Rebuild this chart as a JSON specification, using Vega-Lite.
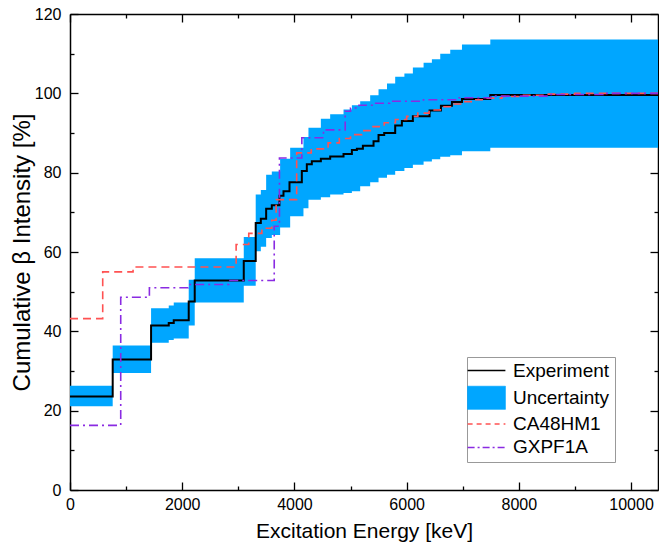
{
  "$schema": "https://vega.github.io/schema/vega-lite/v6.json",
  "width": 588,
  "height": 476,
  "autosize": {"type": "none"},
  "padding": {"left": 70, "top": 14, "right": 1, "bottom": 60},
  "background": "#ffffff",
  "config": {
    "view": {"stroke": null},
    "axis": {
      "grid": false,
      "domainColor": "#000000",
      "domainWidth": 1.5,
      "tickColor": "#000000",
      "tickWidth": 1.3,
      "labelColor": "#000000",
      "titleColor": "#000000",
      "labelFont": "Liberation Sans",
      "titleFont": "Liberation Sans",
      "labelFontSize": 16,
      "titleFontSize": 21,
      "titleFontWeight": "normal",
      "labelFlush": false,
      "labelOverlap": false,
      "format": "d",
      "zindex": 1
    },
    "legend": {
      "orient": "none",
      "legendX": 397,
      "legendY": 343,
      "padding": 4,
      "fillColor": "#ffffff",
      "strokeColor": "#999999",
      "cornerRadius": 0,
      "labelFont": "Liberation Sans",
      "labelFontSize": 19,
      "labelColor": "#000000",
      "symbolSize": 324,
      "symbolOffset": 6,
      "labelOffset": 17,
      "rowPadding": 3.3,
      "titleOrient": "right",
      "titleFont": "Liberation Sans",
      "titleFontSize": 19,
      "titleFontWeight": "normal",
      "titlePadding": 2
    }
  },
  "datasets": {
    "band": [
      {"E": 0, "lo": 21.1, "hi": 26.3},
      {"E": 761, "lo": 29.5, "hi": 36.4},
      {"E": 1445, "lo": 37.1, "hi": 45.8},
      {"E": 1760, "lo": 37.8, "hi": 46.5},
      {"E": 1849, "lo": 38.2, "hi": 47.3},
      {"E": 2116, "lo": 41.5, "hi": 53.0},
      {"E": 2223, "lo": 47.3, "hi": 58.4},
      {"E": 3097, "lo": 51.5, "hi": 63.8},
      {"E": 3310, "lo": 60.2, "hi": 74.5},
      {"E": 3401, "lo": 61.3, "hi": 75.6},
      {"E": 3496, "lo": 63.5, "hi": 79.5},
      {"E": 3597, "lo": 64.3, "hi": 80.3},
      {"E": 3745, "lo": 66.2, "hi": 83.5},
      {"E": 3924, "lo": 69.0, "hi": 86.3},
      {"E": 4161, "lo": 71.0, "hi": 89.0},
      {"E": 4250, "lo": 73.2, "hi": 91.3},
      {"E": 4471, "lo": 73.8, "hi": 93.6},
      {"E": 4637, "lo": 74.5, "hi": 94.7},
      {"E": 4875, "lo": 74.9, "hi": 95.9},
      {"E": 5024, "lo": 75.3, "hi": 97.0},
      {"E": 5172, "lo": 76.6, "hi": 98.0},
      {"E": 5350, "lo": 77.6, "hi": 99.5},
      {"E": 5499, "lo": 78.7, "hi": 101.0},
      {"E": 5650, "lo": 79.5, "hi": 102.5},
      {"E": 5796, "lo": 80.4, "hi": 104.2},
      {"E": 5960, "lo": 81.2, "hi": 105.0},
      {"E": 6111, "lo": 82.0, "hi": 106.5},
      {"E": 6302, "lo": 82.8, "hi": 107.7},
      {"E": 6450, "lo": 83.4, "hi": 108.6},
      {"E": 6599, "lo": 84.0, "hi": 110.0},
      {"E": 6777, "lo": 84.4, "hi": 111.0},
      {"E": 6986, "lo": 85.4, "hi": 112.3},
      {"E": 7491, "lo": 86.3, "hi": 113.6},
      {"E": 10480, "lo": 86.3, "hi": 113.6}
    ],
    "exp": [
      {"E": 0, "v": 23.6},
      {"E": 761, "v": 32.9},
      {"E": 1445, "v": 41.5},
      {"E": 1760, "v": 42.1},
      {"E": 1849, "v": 42.8},
      {"E": 2116, "v": 47.5},
      {"E": 2223, "v": 52.8},
      {"E": 3097, "v": 57.7},
      {"E": 3310, "v": 67.3},
      {"E": 3401, "v": 68.4},
      {"E": 3496, "v": 70.9},
      {"E": 3597, "v": 71.8},
      {"E": 3733, "v": 74.2},
      {"E": 3805, "v": 75.3},
      {"E": 3912, "v": 77.6},
      {"E": 4132, "v": 80.4},
      {"E": 4221, "v": 82.1},
      {"E": 4310, "v": 82.9},
      {"E": 4471, "v": 83.5},
      {"E": 4637, "v": 84.1},
      {"E": 4875, "v": 84.7},
      {"E": 5024, "v": 85.7},
      {"E": 5113, "v": 86.0},
      {"E": 5220, "v": 86.8},
      {"E": 5410, "v": 87.9},
      {"E": 5499, "v": 89.5},
      {"E": 5600, "v": 90.0},
      {"E": 5796, "v": 91.9},
      {"E": 5915, "v": 93.0},
      {"E": 6111, "v": 94.2},
      {"E": 6409, "v": 95.7},
      {"E": 6611, "v": 96.9},
      {"E": 6807, "v": 97.8},
      {"E": 6986, "v": 98.6},
      {"E": 7491, "v": 99.6},
      {"E": 10480, "v": 99.6}
    ],
    "ca": [
      {"E": 0, "v": 43.2},
      {"E": 583, "v": 55.0},
      {"E": 1124, "v": 56.2},
      {"E": 2961, "v": 61.9},
      {"E": 3186, "v": 64.7},
      {"E": 3420, "v": 66.0},
      {"E": 3597, "v": 68.0},
      {"E": 3674, "v": 73.2},
      {"E": 4040, "v": 85.0},
      {"E": 4300, "v": 86.0},
      {"E": 4600, "v": 87.5},
      {"E": 4800, "v": 88.6},
      {"E": 5000, "v": 89.6},
      {"E": 5200, "v": 90.6},
      {"E": 5400, "v": 91.6},
      {"E": 5600, "v": 92.6},
      {"E": 5800, "v": 93.4},
      {"E": 6000, "v": 94.2},
      {"E": 6200, "v": 95.0},
      {"E": 6400, "v": 95.8},
      {"E": 6600, "v": 96.6},
      {"E": 6800, "v": 97.3},
      {"E": 7000, "v": 97.9},
      {"E": 7200, "v": 98.4},
      {"E": 7400, "v": 98.8},
      {"E": 7700, "v": 99.2},
      {"E": 8000, "v": 99.5},
      {"E": 8500, "v": 99.8},
      {"E": 9000, "v": 100.0},
      {"E": 10480, "v": 100.0}
    ],
    "gx": [
      {"E": 0, "v": 16.3},
      {"E": 904, "v": 48.6},
      {"E": 1415, "v": 51.0},
      {"E": 2104, "v": 51.8},
      {"E": 2830, "v": 52.8},
      {"E": 3640, "v": 66.5},
      {"E": 3733, "v": 83.7},
      {"E": 4132, "v": 88.8},
      {"E": 4518, "v": 90.8},
      {"E": 4905, "v": 95.5},
      {"E": 5000, "v": 96.3},
      {"E": 5150, "v": 97.0},
      {"E": 5400, "v": 97.5},
      {"E": 5700, "v": 98.0},
      {"E": 6300, "v": 98.4},
      {"E": 6900, "v": 98.9},
      {"E": 7500, "v": 99.3},
      {"E": 8500, "v": 99.7},
      {"E": 9500, "v": 100.0},
      {"E": 10480, "v": 100.0}
    ]
  },
  "resolve": {"axis": {"x": "independent", "y": "independent"}},
  "layer": [
    {
      "data": {"name": "band"},
      "mark": {"type": "area", "interpolate": "step-after", "opacity": 1},
      "encoding": {
        "x": {
          "field": "E", "type": "quantitative",
          "scale": {"domain": [0, 10480], "nice": false, "zero": false},
          "axis": {"orient": "bottom", "ticks": false, "tickSize": 0, "domain": false,
                   "values": [0, 2000, 4000, 6000, 8000, 10000], "labelPadding": 6,
                   "title": "Excitation Energy [keV]", "titlePadding": 8}
        },
        "y": {
          "field": "lo", "type": "quantitative",
          "scale": {"domain": [0, 120], "nice": false, "zero": false},
          "axis": {"orient": "left", "ticks": false, "tickSize": 0, "domain": false,
                   "values": [0, 20, 40, 60, 80, 100, 120], "labelPadding": 9,
                   "title": "Cumulative β Intensity [%]", "titleFontSize": 24, "titlePadding": 0}
        },
        "y2": {"field": "hi"},
        "color": {
          "datum": "Uncertainty",
          "scale": {
            "domain": ["Experiment", "Uncertainty", "CA48HM1", "GXPF1A"],
            "range": ["#000000", "#00a6ff", "#ff5252", "#8a2be2"]
          },
          "legend": {
            "title": "\u00a0\u00a0\u00a0\u00a0",
            "encode": {
              "symbols": {
                "update": {
                  "shape": {"signal": "datum.value === 'Uncertainty' ? 'M-2.1,-1.28H2.1V1.28H-2.1Z' : 'M-2.1,0H2.1'"},
                  "fill": {"signal": "datum.value === 'Uncertainty' ? '#00a6ff' : 'transparent'"},
                  "stroke": {"signal": "datum.value === 'Experiment' ? '#000000' : datum.value === 'Uncertainty' ? '#3a8cc8' : datum.value === 'CA48HM1' ? '#ff5252' : '#8a2be2'"},
                  "strokeDash": {"signal": "datum.value === 'CA48HM1' ? [5, 4] : datum.value === 'GXPF1A' ? [7, 3, 2, 3] : [1, 0]"},
                  "strokeWidth": {"signal": "datum.value === 'Uncertainty' ? 0.8 : 1.5"},
                  "opacity": {"value": 1}
                }
              }
            }
          }
        }
      }
    },
    {
      "data": {"name": "exp"},
      "mark": {"type": "line", "interpolate": "step-after", "strokeWidth": 2},
      "encoding": {
        "x": {"field": "E", "type": "quantitative",
              "axis": {"orient": "bottom", "labels": false, "title": null, "domain": true,
                       "values": [0, 2000, 4000, 6000, 8000, 10000], "tickSize": -8}},
        "y": {"field": "v", "type": "quantitative",
              "axis": {"orient": "left", "labels": false, "title": null, "domain": true,
                       "values": [0, 20, 40, 60, 80, 100, 120], "tickSize": -8}},
        "color": {"datum": "Experiment",
          "legend": {
            "title": "\u00a0\u00a0\u00a0\u00a0",
            "encode": {
              "symbols": {
                "update": {
                  "shape": {"signal": "datum.value === 'Uncertainty' ? 'M-2.1,-1.28H2.1V1.28H-2.1Z' : 'M-2.1,0H2.1'"},
                  "fill": {"signal": "datum.value === 'Uncertainty' ? '#00a6ff' : 'transparent'"},
                  "stroke": {"signal": "datum.value === 'Experiment' ? '#000000' : datum.value === 'Uncertainty' ? '#3a8cc8' : datum.value === 'CA48HM1' ? '#ff5252' : '#8a2be2'"},
                  "strokeDash": {"signal": "datum.value === 'CA48HM1' ? [5, 4] : datum.value === 'GXPF1A' ? [7, 3, 2, 3] : [1, 0]"},
                  "strokeWidth": {"signal": "datum.value === 'Uncertainty' ? 0.8 : 1.5"},
                  "opacity": {"value": 1}
                }
              }
            }
          }
        }
      }
    },
    {
      "data": {"name": "ca"},
      "mark": {"type": "line", "interpolate": "step-after", "strokeWidth": 1.6, "strokeDash": [8, 5]},
      "encoding": {
        "x": {"field": "E", "type": "quantitative",
              "axis": {"orient": "bottom", "labels": false, "title": null, "domain": false,
                       "values": [1000, 3000, 5000, 7000, 9000], "tickSize": -4}},
        "y": {"field": "v", "type": "quantitative",
              "axis": {"orient": "left", "labels": false, "title": null, "domain": false,
                       "values": [10, 30, 50, 70, 90, 110], "tickSize": -4}},
        "color": {"datum": "CA48HM1",
          "legend": {
            "title": "\u00a0\u00a0\u00a0\u00a0",
            "encode": {
              "symbols": {
                "update": {
                  "shape": {"signal": "datum.value === 'Uncertainty' ? 'M-2.1,-1.28H2.1V1.28H-2.1Z' : 'M-2.1,0H2.1'"},
                  "fill": {"signal": "datum.value === 'Uncertainty' ? '#00a6ff' : 'transparent'"},
                  "stroke": {"signal": "datum.value === 'Experiment' ? '#000000' : datum.value === 'Uncertainty' ? '#3a8cc8' : datum.value === 'CA48HM1' ? '#ff5252' : '#8a2be2'"},
                  "strokeDash": {"signal": "datum.value === 'CA48HM1' ? [5, 4] : datum.value === 'GXPF1A' ? [7, 3, 2, 3] : [1, 0]"},
                  "strokeWidth": {"signal": "datum.value === 'Uncertainty' ? 0.8 : 1.5"},
                  "opacity": {"value": 1}
                }
              }
            }
          }
        }
      }
    },
    {
      "data": {"name": "gx"},
      "mark": {"type": "line", "interpolate": "step-after", "strokeWidth": 1.6, "strokeDash": [9, 4, 2, 4]},
      "encoding": {
        "x": {"field": "E", "type": "quantitative",
              "axis": {"orient": "top", "labels": false, "title": null, "domain": true,
                       "values": [0, 2000, 4000, 6000, 8000, 10000], "tickSize": -8}},
        "y": {"field": "v", "type": "quantitative",
              "axis": {"orient": "right", "labels": false, "title": null, "domain": true,
                       "values": [0, 20, 40, 60, 80, 100, 120], "tickSize": -8}},
        "color": {"datum": "GXPF1A",
          "legend": {
            "title": "\u00a0\u00a0\u00a0\u00a0",
            "encode": {
              "symbols": {
                "update": {
                  "shape": {"signal": "datum.value === 'Uncertainty' ? 'M-2.1,-1.28H2.1V1.28H-2.1Z' : 'M-2.1,0H2.1'"},
                  "fill": {"signal": "datum.value === 'Uncertainty' ? '#00a6ff' : 'transparent'"},
                  "stroke": {"signal": "datum.value === 'Experiment' ? '#000000' : datum.value === 'Uncertainty' ? '#3a8cc8' : datum.value === 'CA48HM1' ? '#ff5252' : '#8a2be2'"},
                  "strokeDash": {"signal": "datum.value === 'CA48HM1' ? [5, 4] : datum.value === 'GXPF1A' ? [7, 3, 2, 3] : [1, 0]"},
                  "strokeWidth": {"signal": "datum.value === 'Uncertainty' ? 0.8 : 1.5"},
                  "opacity": {"value": 1}
                }
              }
            }
          }
        }
      }
    },
    {
      "data": {"name": "exp"},
      "mark": {"type": "line", "interpolate": "step-after", "opacity": 0},
      "encoding": {
        "x": {"field": "E", "type": "quantitative",
              "axis": {"orient": "top", "labels": false, "title": null, "domain": false,
                       "values": [1000, 3000, 5000, 7000, 9000], "tickSize": -4}},
        "y": {"field": "v", "type": "quantitative",
              "axis": {"orient": "right", "labels": false, "title": null, "domain": false,
                       "values": [10, 30, 50, 70, 90, 110], "tickSize": -4}}
      }
    }
  ]
}
